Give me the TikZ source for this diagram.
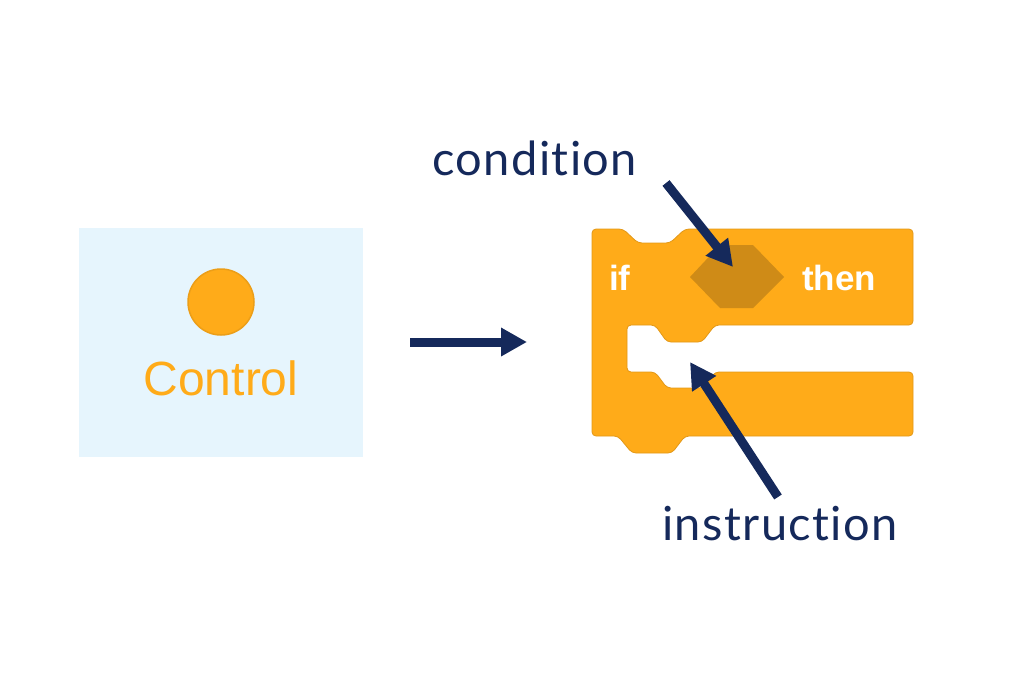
\documentclass[tikz,border=0pt]{standalone}
\usepackage{fontspec}
\usepackage{xcolor}
\setmainfont{Liberation Sans}
\newfontfamily\labelfont[Ligatures={NoCommon,NoContextual},LetterSpace=3]{Lato}
\usetikzlibrary{arrows.meta}
\definecolor{navy}{HTML}{15295B}
\definecolor{ctrlorange}{HTML}{FFAB19}
\definecolor{ctrldark}{HTML}{CF8B17}
\definecolor{panelblue}{HTML}{E6F5FD}
\tikzset{
    pointer/.style = {
        draw            = navy,
        line width      = 9pt,
        -{Triangle[width=27pt,length=26pt]},
    },
    blocktext/.style = {
        text            = white,
        font            = \fontsize{35}{40}\selectfont\bfseries,
        inner sep       = 0pt,
    },
    annotation/.style = {
        text            = navy,
        font            = \labelfont\fontsize{47}{52}\selectfont,
        inner sep       = 0pt,
    }
}
\begin{document}
\begin{tikzpicture}[x=1pt,y=-1pt]
  \useasboundingbox (0,0) rectangle (1024,681);

  % Category
  \node[fill=panelblue,minimum width=284pt,minimum height=229pt,inner sep=0pt] (ControlPanel) at (221,342.5) {};
  \node[circle,fill=ctrlorange,draw=ctrldark!40!ctrlorange,line width=1.5pt,minimum size=66pt,inner sep=0pt] (ControlDot) at (221,302) {};
  \node[text=ctrlorange,font=\fontsize{48}{52}\selectfont,anchor=base,inner sep=0pt] (ControlLabel) at (221,395) {Control};

  \coordinate (ArrowStart) at (410,342);
  \coordinate (ArrowEnd) at (527,342);
  \draw[pointer] (ArrowStart) to (ArrowEnd);

  % If block
  \draw[fill=ctrlorange,draw=ctrldark!60!ctrlorange,line width=0.8pt,rounded corners=4pt]
    (592,229) -- (623,229) -- (638,243) -- (670,243) -- (685,229) -- (913,229)
    -- (913,325) -- (715,325) -- (702,342) -- (667,342) -- (655,325) -- (627,325)
    -- (627,372) -- (655,372) -- (667,388) -- (703,388) -- (715,372) -- (913,372)
    -- (913,436) -- (685,436) -- (672,453) -- (632,453) -- (618,436) -- (592,436) -- cycle;
  \fill[ctrldark] (690,277) -- (720,245) -- (753,245) -- (784,277) -- (753,308) -- (720,308) -- cycle;
  \node[blocktext,anchor=base west] (IfLabel) at (609,290) {if};
  \node[blocktext,anchor=base west] (ThenLabel) at (802,290) {then};

  % Labels
  \node[annotation,anchor=base west] (ConditionLabel) at (432,175) {condition};
  \node[annotation,anchor=base west] (InstructionLabel) at (662,540) {instruction};

  \coordinate (ConditionTail) at (666,183);
  \coordinate (ConditionTip) at (733,267);
  \coordinate (InstructionTail) at (778,497);
  \coordinate (InstructionTip) at (690,362);
  \draw[pointer] (ConditionTail) to (ConditionTip);
  \draw[pointer] (InstructionTail) to (InstructionTip);

\end{tikzpicture}
\end{document}
